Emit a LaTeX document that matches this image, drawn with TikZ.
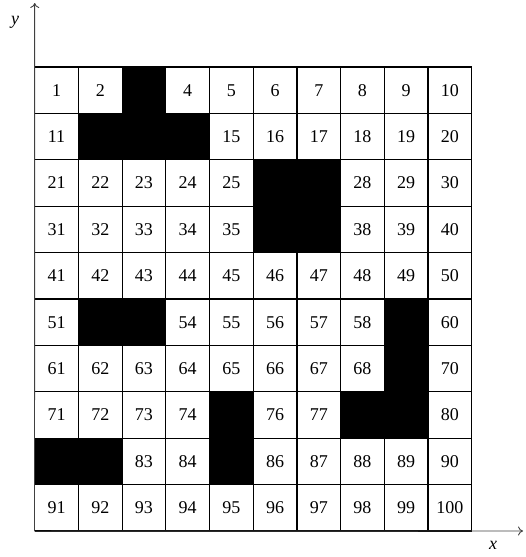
\documentclass[tikz,border=0pt]{standalone}
\usepackage{tikz}
\usetikzlibrary{arrows.meta}
\usepackage{fontspec}
\setmainfont{Liberation Serif}

\begin{document}
\begin{tikzpicture}[
    x=1pt, y=-1pt,
    cell/.style={minimum width=43.7pt, minimum height=46.4pt, inner sep=0pt},
    font=\fontsize{18}{20}\selectfont
]
    \useasboundingbox (0,0) rectangle (525,557);

    % numbered cells
	\foreach \r in {0,...,9} {
        \foreach \c in {0,...,9} {
            \pgfmathtruncatemacro{\n}{10*\r+\c+1}
            \node[cell] (cell-\n) at (56.55+43.7*\c, 90.2+46.4*\r) {\n};
        }
    }
    % blocked cells
    \foreach \n in {3,12,13,14,26,27,36,37,52,53,59,69,75,78,79,81,82,85} {
        \fill (cell-\n.south west) rectangle (cell-\n.north east);
    }
    % grid lines
    \foreach \i in {0,...,10} {
        \draw [line width=1.2pt] (34.7+43.7*\i,67) -- (34.7+43.7*\i,531);
        \draw [line width=1.2pt] (34.7,67+46.4*\i) -- (471.7,67+46.4*\i);
    }

    % axes
    \coordinate (ytip) at (34.7,3);
    \coordinate (xtip) at (523,531);
    \draw [black!75, line width=0.9pt, -{To[length=5pt, width=9pt]}] (cell-91.south west) -- (ytip);
    \draw [black!75, line width=0.9pt, -{To[length=5pt, width=9pt]}] (cell-91.south west) -- (xtip);
    \node (ylabel) at (15,22) {\textit{y}};
    \node (xlabel) at (493,545) {\textit{x}};
\end{tikzpicture}
\end{document}
